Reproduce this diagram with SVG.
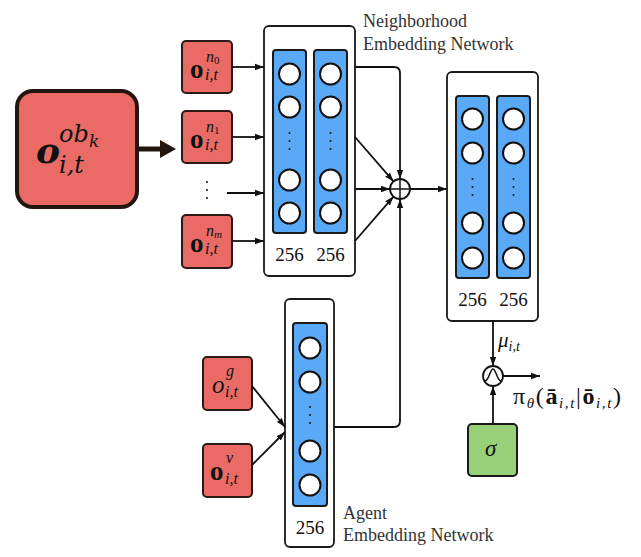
<svg xmlns="http://www.w3.org/2000/svg" width="641" height="557" viewBox="0 0 641 557" font-family="Liberation Serif, DejaVu Serif, serif">
<defs>
<style>
.red{fill:#EA6B66;stroke:#2a1a16;stroke-width:2}
.blk{fill:#fff;stroke:#1a1a1a;stroke-width:1.8}
.blue{fill:#5AA9F6;stroke:#1a1a1a;stroke-width:2}
.nd{fill:#fff;stroke:#111;stroke-width:2}
.green{fill:#97D077;stroke:#1a1a1a;stroke-width:2}
.ln{fill:none;stroke:#111;stroke-width:1.8}
.t{font-family:'Liberation Serif','DejaVu Serif',serif;fill:#111}
.num{font-family:'Liberation Serif','DejaVu Serif',serif;font-size:19px;text-anchor:middle;fill:#111}
.lab{font-family:'Liberation Serif','DejaVu Serif',serif;font-size:18px;fill:#333}
.mo{font-family:'Liberation Serif','DejaVu Serif',serif;font-size:27px;font-weight:bold;fill:#111}
.ms{font-family:'Liberation Serif','DejaVu Serif',serif;font-size:16px;font-style:italic;fill:#111}
.dot{fill:#111}
</style>
<marker id="ah" viewBox="0 0 10 10" refX="10" refY="5" markerWidth="9" markerHeight="9" orient="auto" markerUnits="userSpaceOnUse">
<path d="M0,1.5 L10,5 L0,8.5 z" fill="#111"/>
</marker>
</defs>

<!-- Big observation node -->
<g id="obs-main">
<rect x="17" y="91" width="120" height="116" rx="16" fill="#EA6B66" stroke="#22160f" stroke-width="4"/>
<text x="36" y="163" font-family="DejaVu Serif, serif" font-size="36" font-weight="bold" font-style="italic" fill="#111">o</text>
<text x="59" y="142" font-family="DejaVu Serif, serif" font-size="24" font-style="italic" fill="#111">ob</text>
<text x="89" y="147" font-family="DejaVu Serif, serif" font-size="17" font-style="italic" fill="#111">k</text>
<text x="59" y="173" font-family="DejaVu Serif, serif" font-size="24" font-style="italic" fill="#111">i,t</text>
</g>
<g id="big-arrow">
<line x1="137" y1="149" x2="162" y2="149" stroke="#22160f" stroke-width="5"/>
<path d="M160,140 L176,149 L160,158 z" fill="#22160f"/>
</g>

<!-- neighbor obs nodes -->
<g id="obs-n0">
<rect class="red" x="182" y="41" width="50" height="52" rx="4"/>
<text class="mo" x="190" y="78">o</text>
<text class="ms" x="206" y="62">n<tspan font-size="11" font-style="normal" dy="2">0</tspan></text>
<text class="ms" x="205" y="80">i,t</text>
</g>
<g id="obs-n1">
<rect class="red" x="182" y="111" width="50" height="52" rx="4"/>
<text class="mo" x="190" y="148">o</text>
<text class="ms" x="206" y="132">n<tspan font-size="11" font-style="normal" dy="2">1</tspan></text>
<text class="ms" x="205" y="150">i,t</text>
</g>
<g id="obs-dots">
<circle class="dot" cx="207" cy="182" r="1"/>
<circle class="dot" cx="207" cy="190" r="1"/>
<circle class="dot" cx="207" cy="198" r="1"/>
</g>
<g id="obs-nm">
<rect class="red" x="182" y="215" width="50" height="53" rx="4"/>
<text class="mo" x="190" y="252">o</text>
<text class="ms" x="206" y="236">n<tspan font-size="11" dy="2">m</tspan></text>
<text class="ms" x="205" y="254">i,t</text>
</g>

<!-- Neighborhood embedding network -->
<g id="neighborhood-net">
<rect class="blk" x="264" y="26" width="91" height="250" rx="5"/>
<rect class="blue" x="273" y="50" width="33" height="183" rx="3"/>
<rect class="blue" x="314" y="50" width="33" height="183" rx="3"/>
<circle class="nd" cx="289.5" cy="74" r="10.5"/>
<circle class="nd" cx="289.5" cy="107" r="10.5"/>
<circle class="nd" cx="289.5" cy="180" r="10.5"/>
<circle class="nd" cx="289.5" cy="213" r="10.5"/>
<circle class="nd" cx="330.5" cy="74" r="10.5"/>
<circle class="nd" cx="330.5" cy="107" r="10.5"/>
<circle class="nd" cx="330.5" cy="180" r="10.5"/>
<circle class="nd" cx="330.5" cy="213" r="10.5"/>
<circle class="dot" cx="289.5" cy="133" r="1"/><circle class="dot" cx="289.5" cy="141" r="1"/><circle class="dot" cx="289.5" cy="149" r="1"/>
<circle class="dot" cx="330.5" cy="133" r="1"/><circle class="dot" cx="330.5" cy="141" r="1"/><circle class="dot" cx="330.5" cy="149" r="1"/>
<text class="num" x="289.5" y="261">256</text>
<text class="num" x="330.5" y="261">256</text>
<text class="lab" x="363" y="27">Neighborhood</text>
<text class="lab" x="363" y="50">Embedding Network</text>
</g>

<!-- Agent obs nodes -->
<g id="obs-g">
<rect class="red" x="203" y="357" width="49" height="53" rx="4"/>
<text class="t" x="212" y="393" font-size="25" font-style="italic">o</text>
<text class="ms" x="226" y="376">g</text>
<text class="ms" x="225" y="397">i,t</text>
</g>
<g id="obs-v">
<rect class="red" x="203" y="444" width="49" height="53" rx="4"/>
<text class="mo" x="210" y="480">o</text>
<text class="ms" x="226" y="463">v</text>
<text class="ms" x="225" y="484">i,t</text>
</g>

<!-- Agent embedding network -->
<g id="agent-net">
<rect class="blk" x="285" y="299" width="49" height="248" rx="5"/>
<rect class="blue" x="293" y="323" width="34" height="183" rx="3"/>
<circle class="nd" cx="310" cy="348" r="10.5"/>
<circle class="nd" cx="310" cy="382" r="10.5"/>
<circle class="nd" cx="310" cy="451" r="10.5"/>
<circle class="nd" cx="310" cy="485" r="10.5"/>
<circle class="dot" cx="310" cy="407" r="1"/><circle class="dot" cx="310" cy="415" r="1"/><circle class="dot" cx="310" cy="423" r="1"/>
<text class="num" x="310" y="534">256</text>
<text class="lab" x="343" y="519">Agent</text>
<text class="lab" x="343" y="541">Embedding Network</text>
</g>

<!-- Sum node -->
<g id="sum">
<circle cx="400" cy="189" r="10" fill="#fff" stroke="#111" stroke-width="1.8"/>
<line x1="390" y1="189" x2="410" y2="189" stroke="#111" stroke-width="1.5"/>
<line x1="400" y1="179" x2="400" y2="199" stroke="#111" stroke-width="1.5"/>
</g>

<!-- Policy network -->
<g id="policy-net">
<rect class="blk" x="447" y="72" width="91" height="249" rx="5"/>
<rect class="blue" x="456" y="96" width="33" height="182" rx="3"/>
<rect class="blue" x="497" y="96" width="33" height="182" rx="3"/>
<circle class="nd" cx="472.5" cy="119" r="10.5"/>
<circle class="nd" cx="472.5" cy="153" r="10.5"/>
<circle class="nd" cx="472.5" cy="223" r="10.5"/>
<circle class="nd" cx="472.5" cy="258" r="10.5"/>
<circle class="nd" cx="513.5" cy="119" r="10.5"/>
<circle class="nd" cx="513.5" cy="153" r="10.5"/>
<circle class="nd" cx="513.5" cy="223" r="10.5"/>
<circle class="nd" cx="513.5" cy="258" r="10.5"/>
<circle class="dot" cx="472.5" cy="179" r="1"/><circle class="dot" cx="472.5" cy="187" r="1"/><circle class="dot" cx="472.5" cy="195" r="1"/>
<circle class="dot" cx="513.5" cy="179" r="1"/><circle class="dot" cx="513.5" cy="187" r="1"/><circle class="dot" cx="513.5" cy="195" r="1"/>
<text class="num" x="472.5" y="306">256</text>
<text class="num" x="513.5" y="306">256</text>
</g>

<!-- Gaussian sampling node -->
<g id="gauss">
<circle cx="493" cy="376" r="10" fill="#fff" stroke="#111" stroke-width="1.8"/>
<path d="M485,381 C489,381 490,369 493,369 C496,369 497,381 501,381" fill="none" stroke="#111" stroke-width="1.5"/>
</g>

<!-- Sigma node -->
<g id="sigma">
<rect class="green" x="468" y="424" width="49" height="52" rx="4"/>
<text class="t" x="485" y="456" font-size="23" font-style="italic">σ</text>
</g>

<g id="labels">
<text class="t" x="498" y="347" font-size="21" font-style="italic">μ<tspan font-size="14" dy="4">i,t</tspan></text>
<text class="t" x="513" y="404" font-size="24" textLength="108" lengthAdjust="spacing">π<tspan font-size="15" font-style="italic" dy="4">θ</tspan><tspan dy="-4">(</tspan><tspan font-weight="bold">ā</tspan><tspan font-size="15" font-style="italic" dy="4">i,t</tspan><tspan dy="-4">|</tspan><tspan font-weight="bold">ō</tspan><tspan font-size="15" font-style="italic" dy="4">i,t</tspan><tspan dy="-4">)</tspan></text>
</g>

<!-- Connectors -->
<g id="connectors" class="ln">
<line x1="232" y1="67" x2="264" y2="67" marker-end="url(#ah)"/>
<line x1="232" y1="137" x2="264" y2="137" marker-end="url(#ah)"/>
<line x1="227" y1="193" x2="264" y2="193" marker-end="url(#ah)"/>
<line x1="232" y1="241" x2="264" y2="241" marker-end="url(#ah)"/>
<path d="M355,67 H394 Q400,67 400,73 V179" marker-end="url(#ah)"/>
<line x1="355" y1="137" x2="393.5" y2="181.4" marker-end="url(#ah)"/>
<line x1="355" y1="189" x2="390" y2="189" marker-end="url(#ah)"/>
<line x1="355" y1="241" x2="393.5" y2="196.6" marker-end="url(#ah)"/>
<path d="M334,427 H394 Q400,427 400,421 V199" marker-end="url(#ah)"/>
<line x1="410" y1="189" x2="447" y2="189" marker-end="url(#ah)"/>
<line x1="252" y1="386" x2="285" y2="427" marker-end="url(#ah)"/>
<line x1="252" y1="465" x2="285" y2="432" marker-end="url(#ah)"/>
<line x1="493" y1="321" x2="493" y2="366" marker-end="url(#ah)"/>
<line x1="503" y1="376" x2="540" y2="376" marker-end="url(#ah)"/>
<line x1="493" y1="424" x2="493" y2="386" marker-end="url(#ah)"/>
</g>
</svg>
